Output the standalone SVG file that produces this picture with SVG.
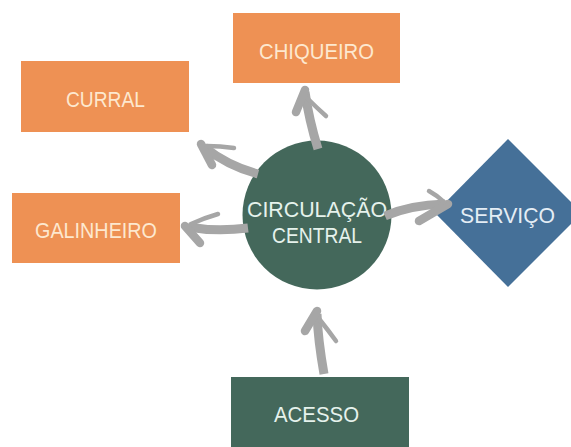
<svg xmlns="http://www.w3.org/2000/svg" width="571" height="447" viewBox="0 0 571 447">
<style>
.orange{fill:#ee9154}
.green{fill:#44685b}
.blue{fill:#457098}
.t{font-family:"Liberation Sans",Arial,sans-serif;font-size:22px;text-anchor:middle}
.to{fill:#fde8cf}
.tg{fill:#e6f2ec}
.tb{fill:#e4edf5}
.shaft{fill:none;stroke:#a6a6a6;stroke-width:9;stroke-linecap:butt}
.barb{fill:none;stroke:#a6a6a6;stroke-width:8.5;stroke-linecap:round;stroke-linejoin:round}
.thin{fill:none;stroke:#a6a6a6;stroke-width:4.5;stroke-linecap:round}
</style>
<rect width="571" height="447" fill="#ffffff"/>
<g id="chiqueiro">
<rect class="orange" x="233" y="13" width="167" height="70"/>
<text class="t to" x="316.5" y="59" textLength="115" lengthAdjust="spacingAndGlyphs">CHIQUEIRO</text>
</g>
<g id="curral">
<rect class="orange" x="21" y="61" width="168" height="71"/>
<text class="t to" x="105.5" y="107" textLength="79" lengthAdjust="spacingAndGlyphs">CURRAL</text>
</g>
<g id="galinheiro">
<rect class="orange" x="12" y="193" width="168" height="70"/>
<text class="t to" x="96" y="238" textLength="122" lengthAdjust="spacingAndGlyphs">GALINHEIRO</text>
</g>
<g id="circulacao">
<circle class="green" cx="317" cy="215" r="74.5"/>
<text class="t tg" x="317" y="217" textLength="140" lengthAdjust="spacingAndGlyphs">CIRCULAÇÃO</text>
<text class="t tg" x="317" y="243" textLength="90" lengthAdjust="spacingAndGlyphs">CENTRAL</text>
</g>
<g id="servico">
<polygon class="blue" points="508,139 582,213 508,287 435,213"/>
<text class="t tb" x="507.5" y="223" textLength="95" lengthAdjust="spacingAndGlyphs">SERVIÇO</text>
</g>
<g id="acesso">
<rect class="green" x="231" y="377" width="178" height="75"/>
<text class="t tg" x="316.5" y="422" textLength="85" lengthAdjust="spacingAndGlyphs">ACESSO</text>
</g>
<g id="connectors">
<g id="to-chiqueiro">
<path class="shaft" d="M318,149 Q309,120 305,92"/>
<path class="barb" d="M305,90 L296,112"/>
<path class="thin" d="M308,99 Q317,108 326,116"/>
</g>
<g id="to-curral">
<path class="shaft" d="M258,174 Q228,166 204,147"/>
<path class="barb" d="M201,144 L212,165"/>
<path class="thin" d="M207,146 Q220,146 234,148"/>
</g>
<g id="to-galinheiro">
<path class="shaft" d="M248,228 Q216,232 188,227"/>
<path class="barb" d="M185,226 L200,243"/>
<path class="thin" d="M191,224 Q204,218 218,214"/>
</g>
<g id="to-servico">
<path class="shaft" d="M385,216 Q410,205 445,204"/>
<path class="barb" d="M448,204 L419,221"/>
<path class="thin" d="M444,202 Q438,196 429,191"/>
</g>
<g id="from-acesso">
<path class="shaft" d="M324,374 Q318,340 317,314"/>
<path class="barb" d="M317,311 L305,331"/>
<path class="thin" d="M320,320 Q328,330 336,341"/>
</g>
</g>
</svg>
